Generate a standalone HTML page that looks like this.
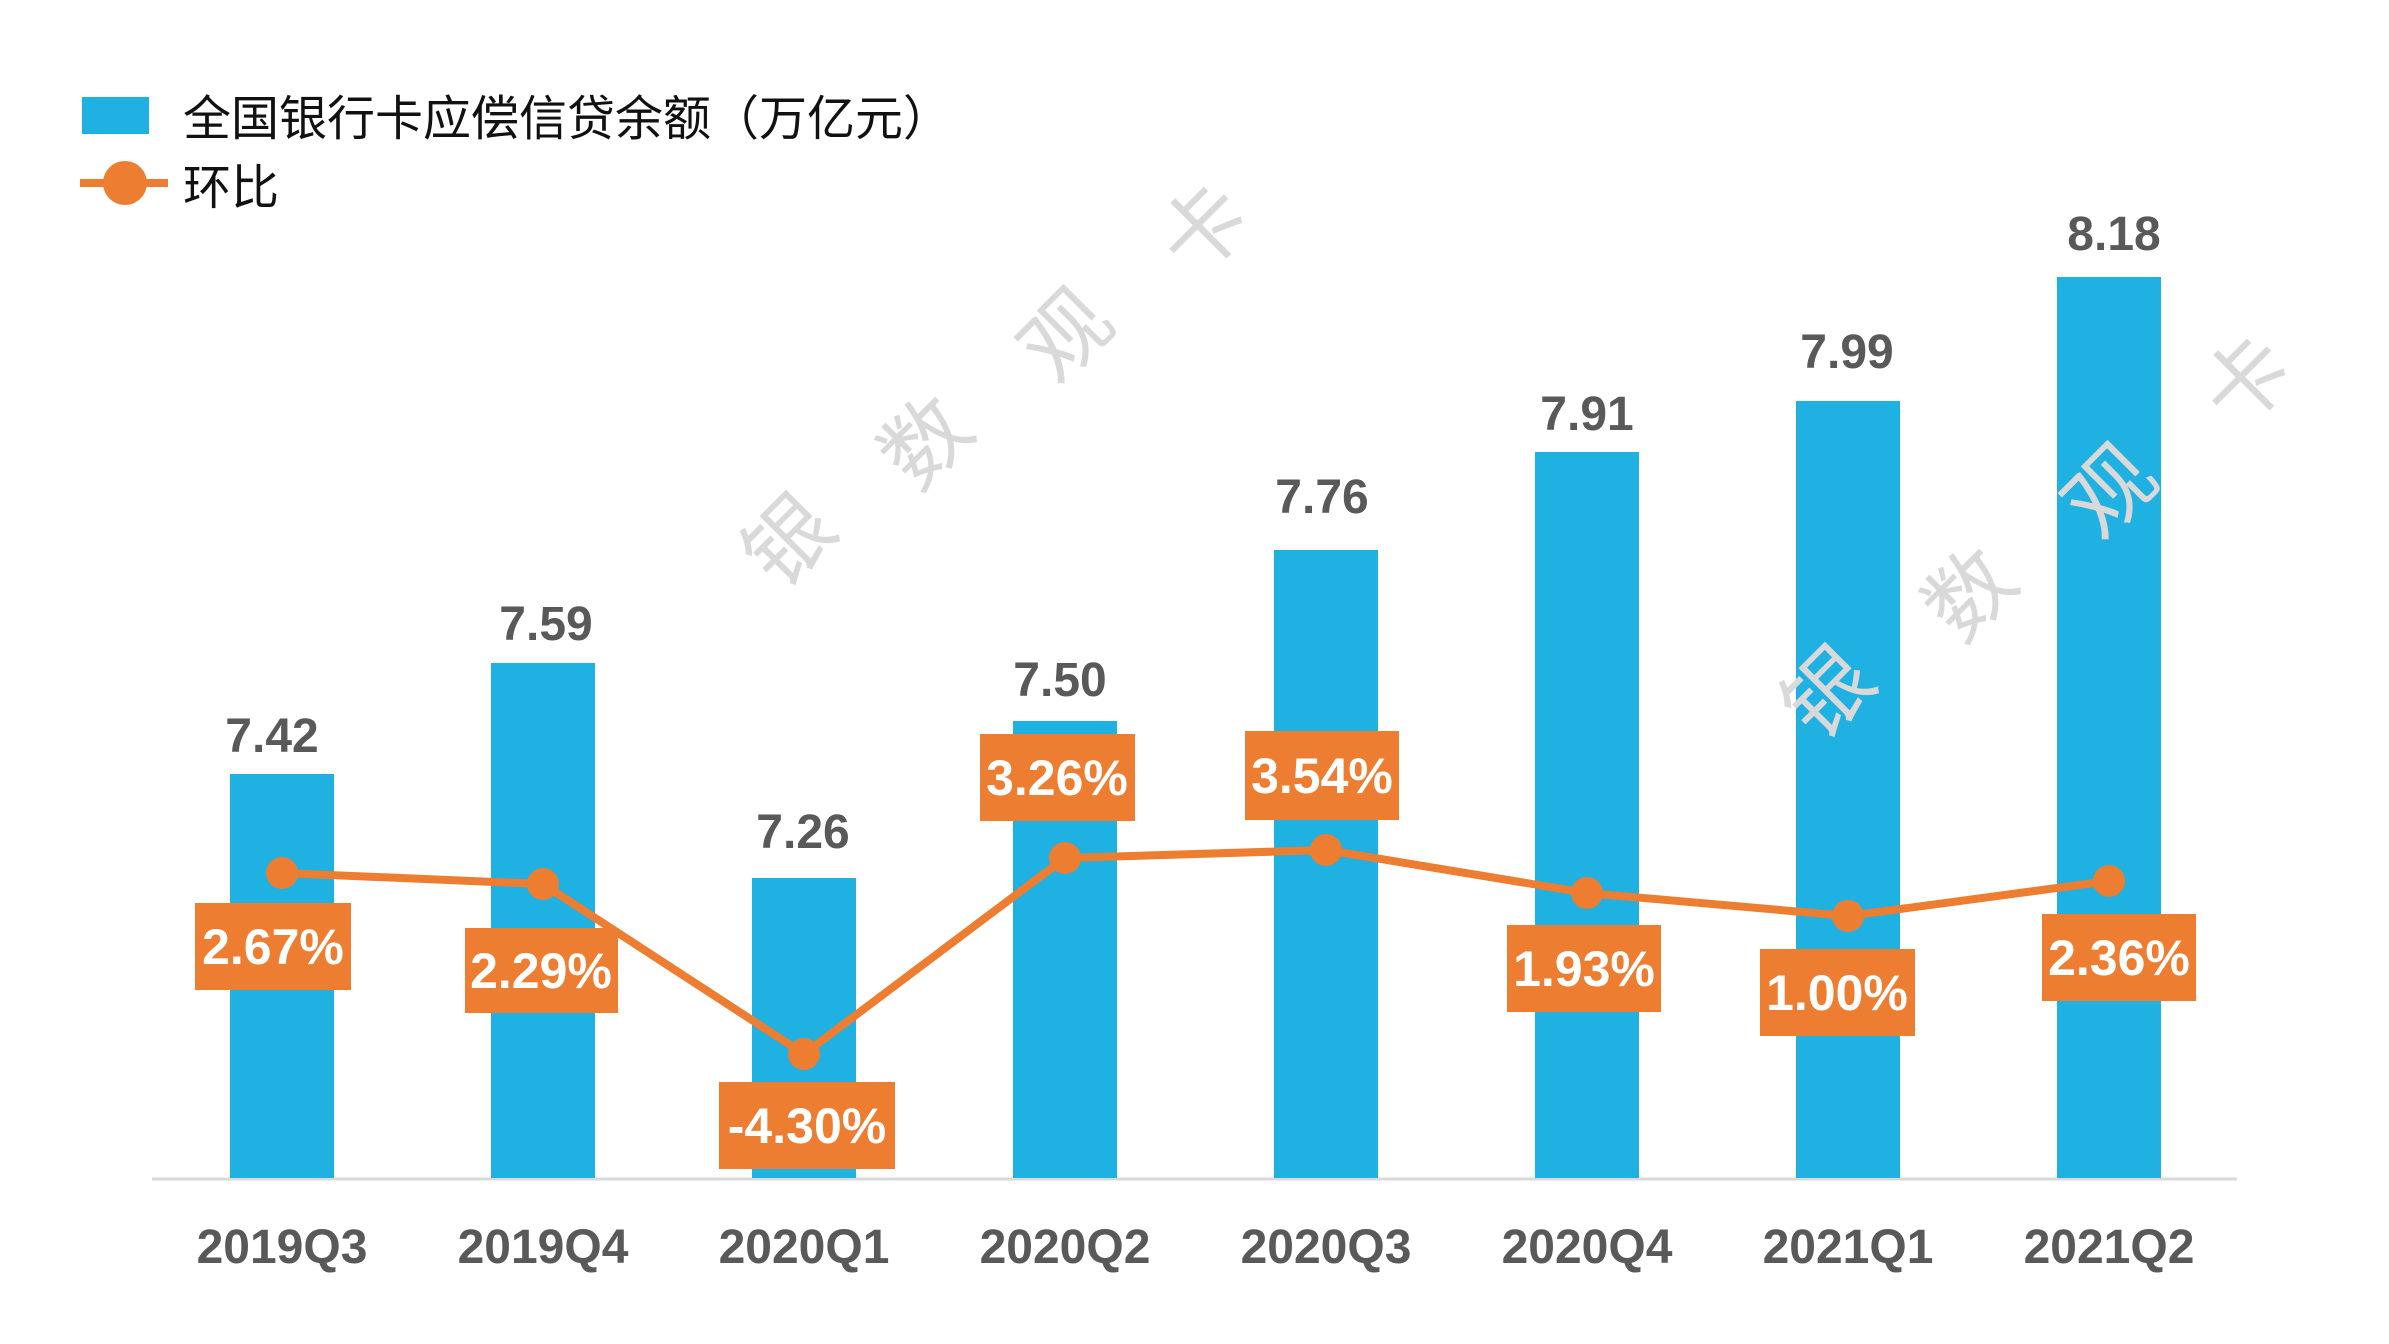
<!DOCTYPE html>
<html><head><meta charset="utf-8"><style>
html,body{margin:0;padding:0;background:#fff}
svg{display:block}
text{font-family:"Liberation Sans","Noto Sans CJK SC",sans-serif}
</style></head><body>
<svg width="2389" height="1344" viewBox="0 0 2389 1344" xmlns="http://www.w3.org/2000/svg">
<rect width="2389" height="1344" fill="#fff"/>
<!-- legend -->
<rect x="82" y="97" width="67" height="37" fill="#1FB1E1"/>
<text x="183" y="135" font-size="48" fill="#111" font-family="'Noto Sans CJK SC',sans-serif">全国银行卡应偿信贷余额（万亿元）</text>
<line x1="80" y1="183" x2="168" y2="183" stroke="#ED7D31" stroke-width="8"/>
<circle cx="125" cy="183" r="22" fill="#ED7D31"/>
<text x="183" y="204" font-size="48" fill="#111" font-family="'Noto Sans CJK SC',sans-serif">环比</text>
<!-- axis -->
<line x1="152" y1="1179" x2="2237" y2="1179" stroke="#d9d9d9" stroke-width="3"/>
<g fill="#1FB1E1">
<rect x="230" y="774" width="104" height="404"/>
<rect x="491" y="663" width="104" height="515"/>
<rect x="752" y="878" width="104" height="300"/>
<rect x="1013" y="721" width="104" height="457"/>
<rect x="1274" y="550" width="104" height="628"/>
<rect x="1535" y="452" width="104" height="726"/>
<rect x="1796" y="401" width="104" height="777"/>
<rect x="2057" y="277" width="104" height="901"/>
</g>
<!-- watermark -->
<g fill="#d9d9d9" font-size="86" font-family="'Noto Sans CJK SC',sans-serif" text-anchor="middle">
<text transform="translate(789,541) rotate(-45)" dy="30">银</text>
<text transform="translate(926,442) rotate(-45)" dy="30">数</text>
<text transform="translate(1066,335) rotate(-45)" dy="30">观</text>
<text transform="translate(1204,229) rotate(-45)" dy="30">卡</text>
<text transform="translate(1828,693) rotate(-45)" dy="30">银</text>
<text transform="translate(1970,594) rotate(-45)" dy="30">数</text>
<text transform="translate(2110,491) rotate(-45)" dy="30">观</text>
<text transform="translate(2247,381) rotate(-45)" dy="30">卡</text>
</g>
<g font-size="48" font-weight="bold" fill="#595959" text-anchor="middle">
<text x="272" y="752">7.42</text>
<text x="546" y="640">7.59</text>
<text x="803" y="848">7.26</text>
<text x="1060" y="696">7.50</text>
<text x="1322" y="513">7.76</text>
<text x="1587" y="430">7.91</text>
<text x="1847" y="368">7.99</text>
<text x="2114" y="250">8.18</text>
</g>
<g font-size="48" font-weight="bold" fill="#595959" text-anchor="middle">
<text x="282" y="1263">2019Q3</text>
<text x="543" y="1263">2019Q4</text>
<text x="804" y="1263">2020Q1</text>
<text x="1065" y="1263">2020Q2</text>
<text x="1326" y="1263">2020Q3</text>
<text x="1587" y="1263">2020Q4</text>
<text x="1848" y="1263">2021Q1</text>
<text x="2109" y="1263">2021Q2</text>
</g>
<polyline points="282,873 543,884 804,1054 1065,858 1326,850 1587,893 1848,916 2109,881" fill="none" stroke="#ED7D31" stroke-width="8" stroke-linejoin="round"/>
<g fill="#ED7D31">
<circle cx="282" cy="873" r="16"/><circle cx="543" cy="884" r="16"/><circle cx="804" cy="1054" r="16"/><circle cx="1065" cy="858" r="16"/>
<circle cx="1326" cy="850" r="16"/><circle cx="1587" cy="893" r="16"/><circle cx="1848" cy="916" r="16"/><circle cx="2109" cy="881" r="16"/>
<rect x="195" y="903" width="156" height="87"/>
<rect x="465" y="928" width="153" height="85"/>
<rect x="719" y="1082" width="176" height="87"/>
<rect x="980" y="734" width="155" height="87"/>
<rect x="1245" y="731" width="154" height="89"/>
<rect x="1507" y="925" width="154" height="87"/>
<rect x="1760" y="949" width="155" height="87"/>
<rect x="2042" y="914" width="154" height="87"/>
</g>
<g font-size="50" font-weight="bold" fill="#fff" text-anchor="middle">
<text x="273" y="964">2.67%</text>
<text x="541" y="988">2.29%</text>
<text x="807" y="1143">-4.30%</text>
<text x="1057" y="795">3.26%</text>
<text x="1322" y="793">3.54%</text>
<text x="1584" y="986">1.93%</text>
<text x="1837" y="1010">1.00%</text>
<text x="2119" y="975">2.36%</text>
</g>
</svg>
</body></html>
